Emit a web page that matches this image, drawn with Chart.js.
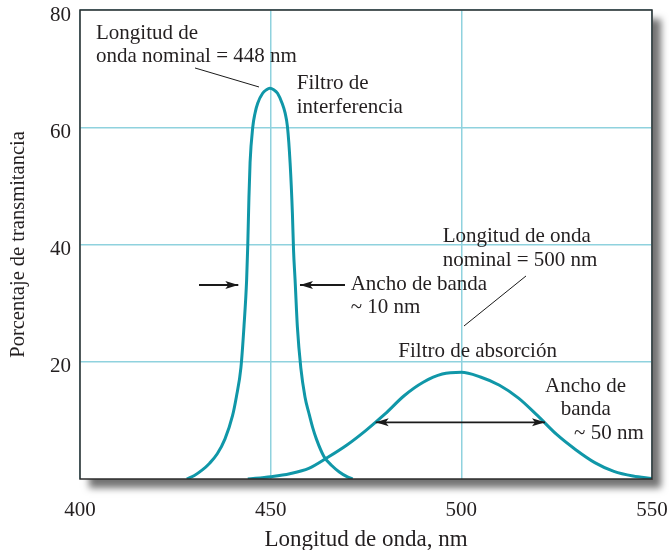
<!DOCTYPE html>
<html>
<head>
<meta charset="utf-8">
<script src="https://cdn.jsdelivr.net/npm/chart.js@4.4.1/dist/chart.umd.min.js"></script>
<style>
html, body { margin: 0; padding: 0; background: #fff; }
</style>
</head>
<body>
<canvas id="grafico" width="669" height="550"></canvas>
<script>
// # ===============================
// # = Datos
// # ===============================
const interfNm  = [428, 430, 432, 434, 436, 438, 440, 441, 442.2, 443, 443.7, 444, 444.3, 444.6, 445.3, 445.9,
                   446.6, 447.9, 448.9, 449.8, 450.8, 451.8, 453, 453.8, 454.4, 455.1, 455.7, 456, 456.4, 457,
                   457.9, 459, 460, 461, 462, 464, 466, 468, 470, 471.5];
const interfPct = [0, 0.6, 1.5, 2.7, 4.3, 6.8, 10.8, 14, 19, 26, 34, 40, 48, 54, 60, 62.4,
                   64.1, 65.8, 66.4, 66.65, 66.4, 65.8, 64.1, 62.4, 60.1, 53.9, 45.3, 39, 34, 26,
                   19, 14, 11.3, 8.8, 6.8, 3.8, 2.3, 1.2, 0.4, 0];

const absNm  = [444, 450, 455, 460, 465, 470, 475, 480, 485, 490, 495, 500, 505, 510, 515, 520, 525, 530, 535, 540, 545, 550];
const absPct = [0, 0.4, 0.9, 1.8, 3.7, 5.8, 8.3, 11.1, 14.2, 16.5, 17.9, 18.2, 17.4, 16.0, 13.8, 10.8, 7.6, 5.0, 2.8, 1.3, 0.5, 0.1];

const xTicks = [400, 450, 500, 550];
const yTicks = [20, 40, 60, 80];

// textos y flechas, en unidades de los ejes (nm, %)
const textos = [
	['Longitud de', 404.2, 75.0],
	['onda nominal = 448 nm', 404.2, 71.18],
	['Filtro de', 456.83, 66.47],
	['interferencia', 456.83, 62.48],
	['Longitud de onda', 495.1, 40.48],
	['nominal = 500 nm', 495.1, 36.38],
	['Ancho de banda', 470.99, 32.24],
	['~ 10 nm', 470.99, 28.26],
	['Filtro de absorción', 483.47, 20.76],
	['Ancho de', 521.94, 14.89],
	['banda', 526.06, 10.92],
	['~ 50 nm', 529.55, 6.77]
];
// [desde, hasta (punta), y, doble]
const flechas = [
	[431.21, 441.51, 33.09, false],
	[469.49, 457.69, 33.09, false],
	[477.54, 521.94, 9.67, true]
];
const lineasGuia = [
	[430.16, 70.11, 446.94, 66.87],
	[516.96, 34.63, 500.7, 26.1]
];

const fuente = 'Liberation Serif';
const colorTexto = '#231f20';
const colorCurva = '#1097a8';
const colorRejilla = '#8fd2de';

function puntos(xs, ys) {
	return xs.map((v, i) => ({ x: v, y: ys[i] }));
}

function cabeza(ctx, x, y, dir) {
	ctx.beginPath();
	ctx.moveTo(x, y);
	ctx.lineTo(x - dir * 13, y - 4);
	ctx.lineTo(x - dir * 10, y);
	ctx.lineTo(x - dir * 13, y + 4);
	ctx.closePath();
	ctx.fill();
}

const marco = {
	id: 'marco',
	beforeDraw(chart) {
		const a = chart.chartArea, ctx = chart.ctx;
		ctx.save();
		ctx.shadowColor = 'rgba(0,0,0,0.55)';
		ctx.shadowBlur = 7;
		ctx.shadowOffsetX = 9;
		ctx.shadowOffsetY = 9;
		ctx.fillStyle = '#fff';
		ctx.fillRect(a.left, a.top, a.right - a.left, a.bottom - a.top);
		ctx.restore();
	},
	afterDraw(chart) {
		const a = chart.chartArea, ctx = chart.ctx;
		const sx = chart.scales.x, sy = chart.scales.y;
		ctx.save();
		ctx.strokeStyle = '#2b2b2b';
		ctx.lineWidth = 1.5;
		ctx.strokeRect(a.left, a.top, a.right - a.left, a.bottom - a.top);

		ctx.fillStyle = colorTexto;
		ctx.font = '21px "' + fuente + '"';
		ctx.textAlign = 'left';
		ctx.textBaseline = 'alphabetic';
		textos.forEach(t => {
			ctx.fillText(t[0], sx.getPixelForValue(t[1]), sy.getPixelForValue(t[2]));
		});

		ctx.strokeStyle = '#1a1a1a';
		ctx.lineWidth = 1;
		lineasGuia.forEach(l => {
			ctx.beginPath();
			ctx.moveTo(sx.getPixelForValue(l[0]), sy.getPixelForValue(l[1]));
			ctx.lineTo(sx.getPixelForValue(l[2]), sy.getPixelForValue(l[3]));
			ctx.stroke();
		});

		ctx.fillStyle = '#1a1a1a';
		ctx.lineWidth = 1.8;
		flechas.forEach(f => {
			const x1 = sx.getPixelForValue(f[0]);
			const x2 = sx.getPixelForValue(f[1]);
			const y = sy.getPixelForValue(f[2]);
			ctx.beginPath();
			ctx.moveTo(x1, y);
			ctx.lineTo(x2, y);
			ctx.stroke();
			const dir = x2 > x1 ? 1 : -1;
			cabeza(ctx, x2, y, dir);
			if (f[3]) cabeza(ctx, x1, y, -dir);
		});
		ctx.restore();
	}
};

const ctx = document.getElementById('grafico');

new Chart(ctx, {
	type: 'line',
	data: {
		datasets: [{
			label: 'Filtro de interferencia',
			data: puntos(interfNm, interfPct),
			borderColor: colorCurva,
			borderWidth: 3,
			pointRadius: 0,
			cubicInterpolationMode: 'monotone',
			fill: false
		}, {
			label: 'Filtro de absorción',
			data: puntos(absNm, absPct),
			borderColor: colorCurva,
			borderWidth: 3,
			pointRadius: 0,
			cubicInterpolationMode: 'monotone',
			fill: false
		}]
	},
	options: {
		responsive: false,
		animation: false,
		devicePixelRatio: 1,
		layout: { padding: { top: 10, right: 17, left: 0, bottom: 0 } },
		plugins: {
			legend: { display: false },
			tooltip: { enabled: false }
		},
		scales: {
			x: {
				type: 'linear',
				min: 400,
				max: 550,
				afterBuildTicks: s => { s.ticks = xTicks.map(v => ({ value: v })); },
				afterFit: s => { s.height = 71; s.paddingLeft = 0; s.paddingRight = 0; },
				grid: { color: colorRejilla, lineWidth: 1.5, drawTicks: false },
				border: { display: false },
				ticks: {
					padding: 19,
					color: colorTexto,
					font: { family: fuente, size: 21 }
				},
				title: {
					display: true,
					text: 'Longitud de onda, nm',
					color: colorTexto,
					font: { family: fuente, size: 23, lineHeight: 1 },
					padding: { top: 0, bottom: -1 }
				}
			},
			y: {
				min: 0,
				max: 80,
				afterBuildTicks: s => { s.ticks = yTicks.map(v => ({ value: v })); },
				afterFit: s => { s.width = 80; s.paddingTop = 0; s.paddingBottom = 0; },
				grid: { color: colorRejilla, lineWidth: 1.5, drawTicks: false },
				border: { display: false },
				ticks: {
					padding: 9,
					labelOffset: 5,
					color: colorTexto,
					font: { family: fuente, size: 21 }
				},
				title: {
					display: true,
					text: 'Porcentaje de transmitancia',
					color: colorTexto,
					font: { family: fuente, size: 20.5 },
					padding: { top: 6, bottom: 0 }
				}
			}
		}
	},
	plugins: [marco]
});
</script>
</body>
</html>
